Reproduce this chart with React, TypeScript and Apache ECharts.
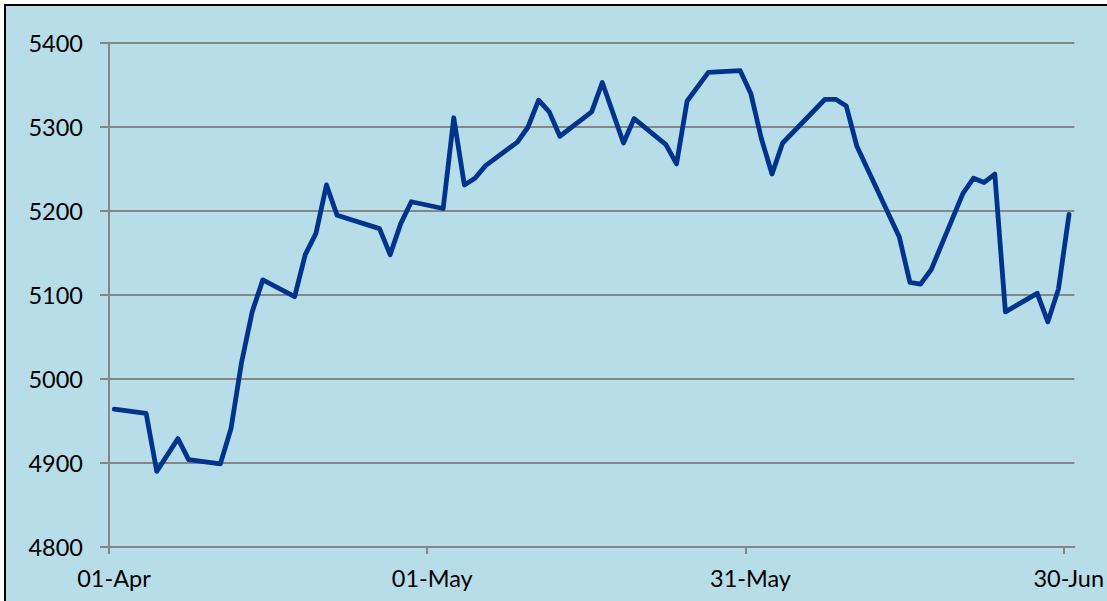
import React, { useEffect, useRef } from "react";
import * as echarts from "echarts";

const dates: string[] = [
  "2011-04-01", "2011-04-04", "2011-04-05", "2011-04-07", "2011-04-08",
  "2011-04-11", "2011-04-12", "2011-04-13", "2011-04-14", "2011-04-15",
  "2011-04-18", "2011-04-19", "2011-04-20", "2011-04-21", "2011-04-22",
  "2011-04-26", "2011-04-27", "2011-04-28", "2011-04-29",
  "2011-05-02", "2011-05-03", "2011-05-04", "2011-05-05", "2011-05-06",
  "2011-05-09", "2011-05-10", "2011-05-11", "2011-05-12", "2011-05-13",
  "2011-05-16", "2011-05-17", "2011-05-19", "2011-05-20",
  "2011-05-23", "2011-05-24", "2011-05-25", "2011-05-27",
  "2011-05-30", "2011-05-31", "2011-06-01", "2011-06-02", "2011-06-03",
  "2011-06-07", "2011-06-08", "2011-06-09", "2011-06-10",
  "2011-06-14", "2011-06-15", "2011-06-16", "2011-06-17",
  "2011-06-20", "2011-06-21", "2011-06-22", "2011-06-23", "2011-06-24",
  "2011-06-27", "2011-06-28", "2011-06-29", "2011-06-30",
];

const values: number[] = [
  4964, 4959, 4890, 4929, 4904,
  4899, 4941, 5020, 5080, 5118,
  5098, 5148, 5173, 5231, 5195,
  5179, 5148, 5185, 5211,
  5203, 5311, 5231, 5239, 5254,
  5282, 5300, 5332, 5318, 5289,
  5318, 5353, 5281, 5310,
  5279, 5256, 5331, 5365,
  5367, 5340, 5286, 5244, 5281,
  5333, 5333, 5325, 5277,
  5169, 5115, 5113, 5130,
  5221, 5239, 5234, 5244, 5080,
  5102, 5068, 5107, 5196,
];

const axisStart = "2011-04-01";
const axisDays = 91;
const xTickDays: number[] = [0, 30, 60, 90];
const yTicks: number[] = [4800, 4900, 5000, 5100, 5200, 5300, 5400];
const monthNames = ["Jan", "Feb", "Mar", "Apr", "May", "Jun", "Jul", "Aug", "Sep", "Oct", "Nov", "Dec"];

const DAY = 86400000;
const startMs = Date.parse(axisStart + "T00:00:00Z");
const dayIndex = (s: string) => Math.round((Date.parse(s + "T00:00:00Z") - startMs) / DAY);
const fmtDay = (d: number) => {
  const dt = new Date(startMs + Math.round(d) * DAY);
  const dd = String(dt.getUTCDate()).padStart(2, "0");
  return dd + "-" + monthNames[dt.getUTCMonth()];
};

export default function App() {
  const ref = useRef<HTMLDivElement>(null);
  useEffect(() => {
    if (!ref.current) return;
    const chart = echarts.init(ref.current, undefined, { renderer: "svg" });
    const font = "Lato, 'Open Sans', sans-serif";
    const gridColor = "#878787";
    chart.setOption({
      animation: false,
      backgroundColor: "transparent",
      textStyle: { fontFamily: font },
      grid: { left: 109, right: 29, top: 43, bottom: 54, containLabel: false },
      xAxis: {
        type: "value",
        min: 0,
        max: axisDays,
        interval: 30,
        axisLine: { show: true, lineStyle: { color: gridColor, width: 2 } },
        axisTick: { show: true, length: 7, lineStyle: { color: gridColor, width: 2 }, customValues: xTickDays },
        splitLine: { show: false },
        axisLabel: {
          customValues: xTickDays,
          formatter: (v: number) => fmtDay(v),
          color: "#000",
          fontSize: 23.5,
          fontFamily: font,
          margin: 19,
          padding: [0, 0, 0, 10],
        },
      },
      yAxis: {
        type: "value",
        min: yTicks[0],
        max: yTicks[yTicks.length - 1],
        interval: 100,
        axisLine: { show: true, lineStyle: { color: gridColor, width: 2 } },
        axisTick: { show: true, length: 9, lineStyle: { color: gridColor, width: 2 } },
        splitLine: { show: true, lineStyle: { color: gridColor, width: 2 } },
        axisLabel: {
          color: "#000",
          fontSize: 23.5,
          fontFamily: font,
          margin: 26,
          formatter: (v: number) => String(v),
        },
      },
      series: [
        {
          type: "line",
          data: dates.map((d, i) => [dayIndex(d) + 0.5, values[i]]),
          showSymbol: false,
          lineStyle: { color: "#00338c", width: 4.8, join: "round", cap: "round" },
          itemStyle: { color: "#00338c" },
        },
      ],
    });
    return () => chart.dispose();
  }, []);

  return (
    <div style={{ position: "fixed", left: 0, top: 0, width: 1107, height: 601, overflow: "hidden", background: "#fff" }}>
      <div
        style={{
          position: "absolute",
          left: 4,
          top: 4,
          width: 1110,
          height: 610,
          border: "2px solid #000",
          background: "#b7dde8",
        }}
      />
      <div ref={ref} style={{ position: "absolute", left: 0, top: 0, width: 1107, height: 601 }} />
    </div>
  );
}
